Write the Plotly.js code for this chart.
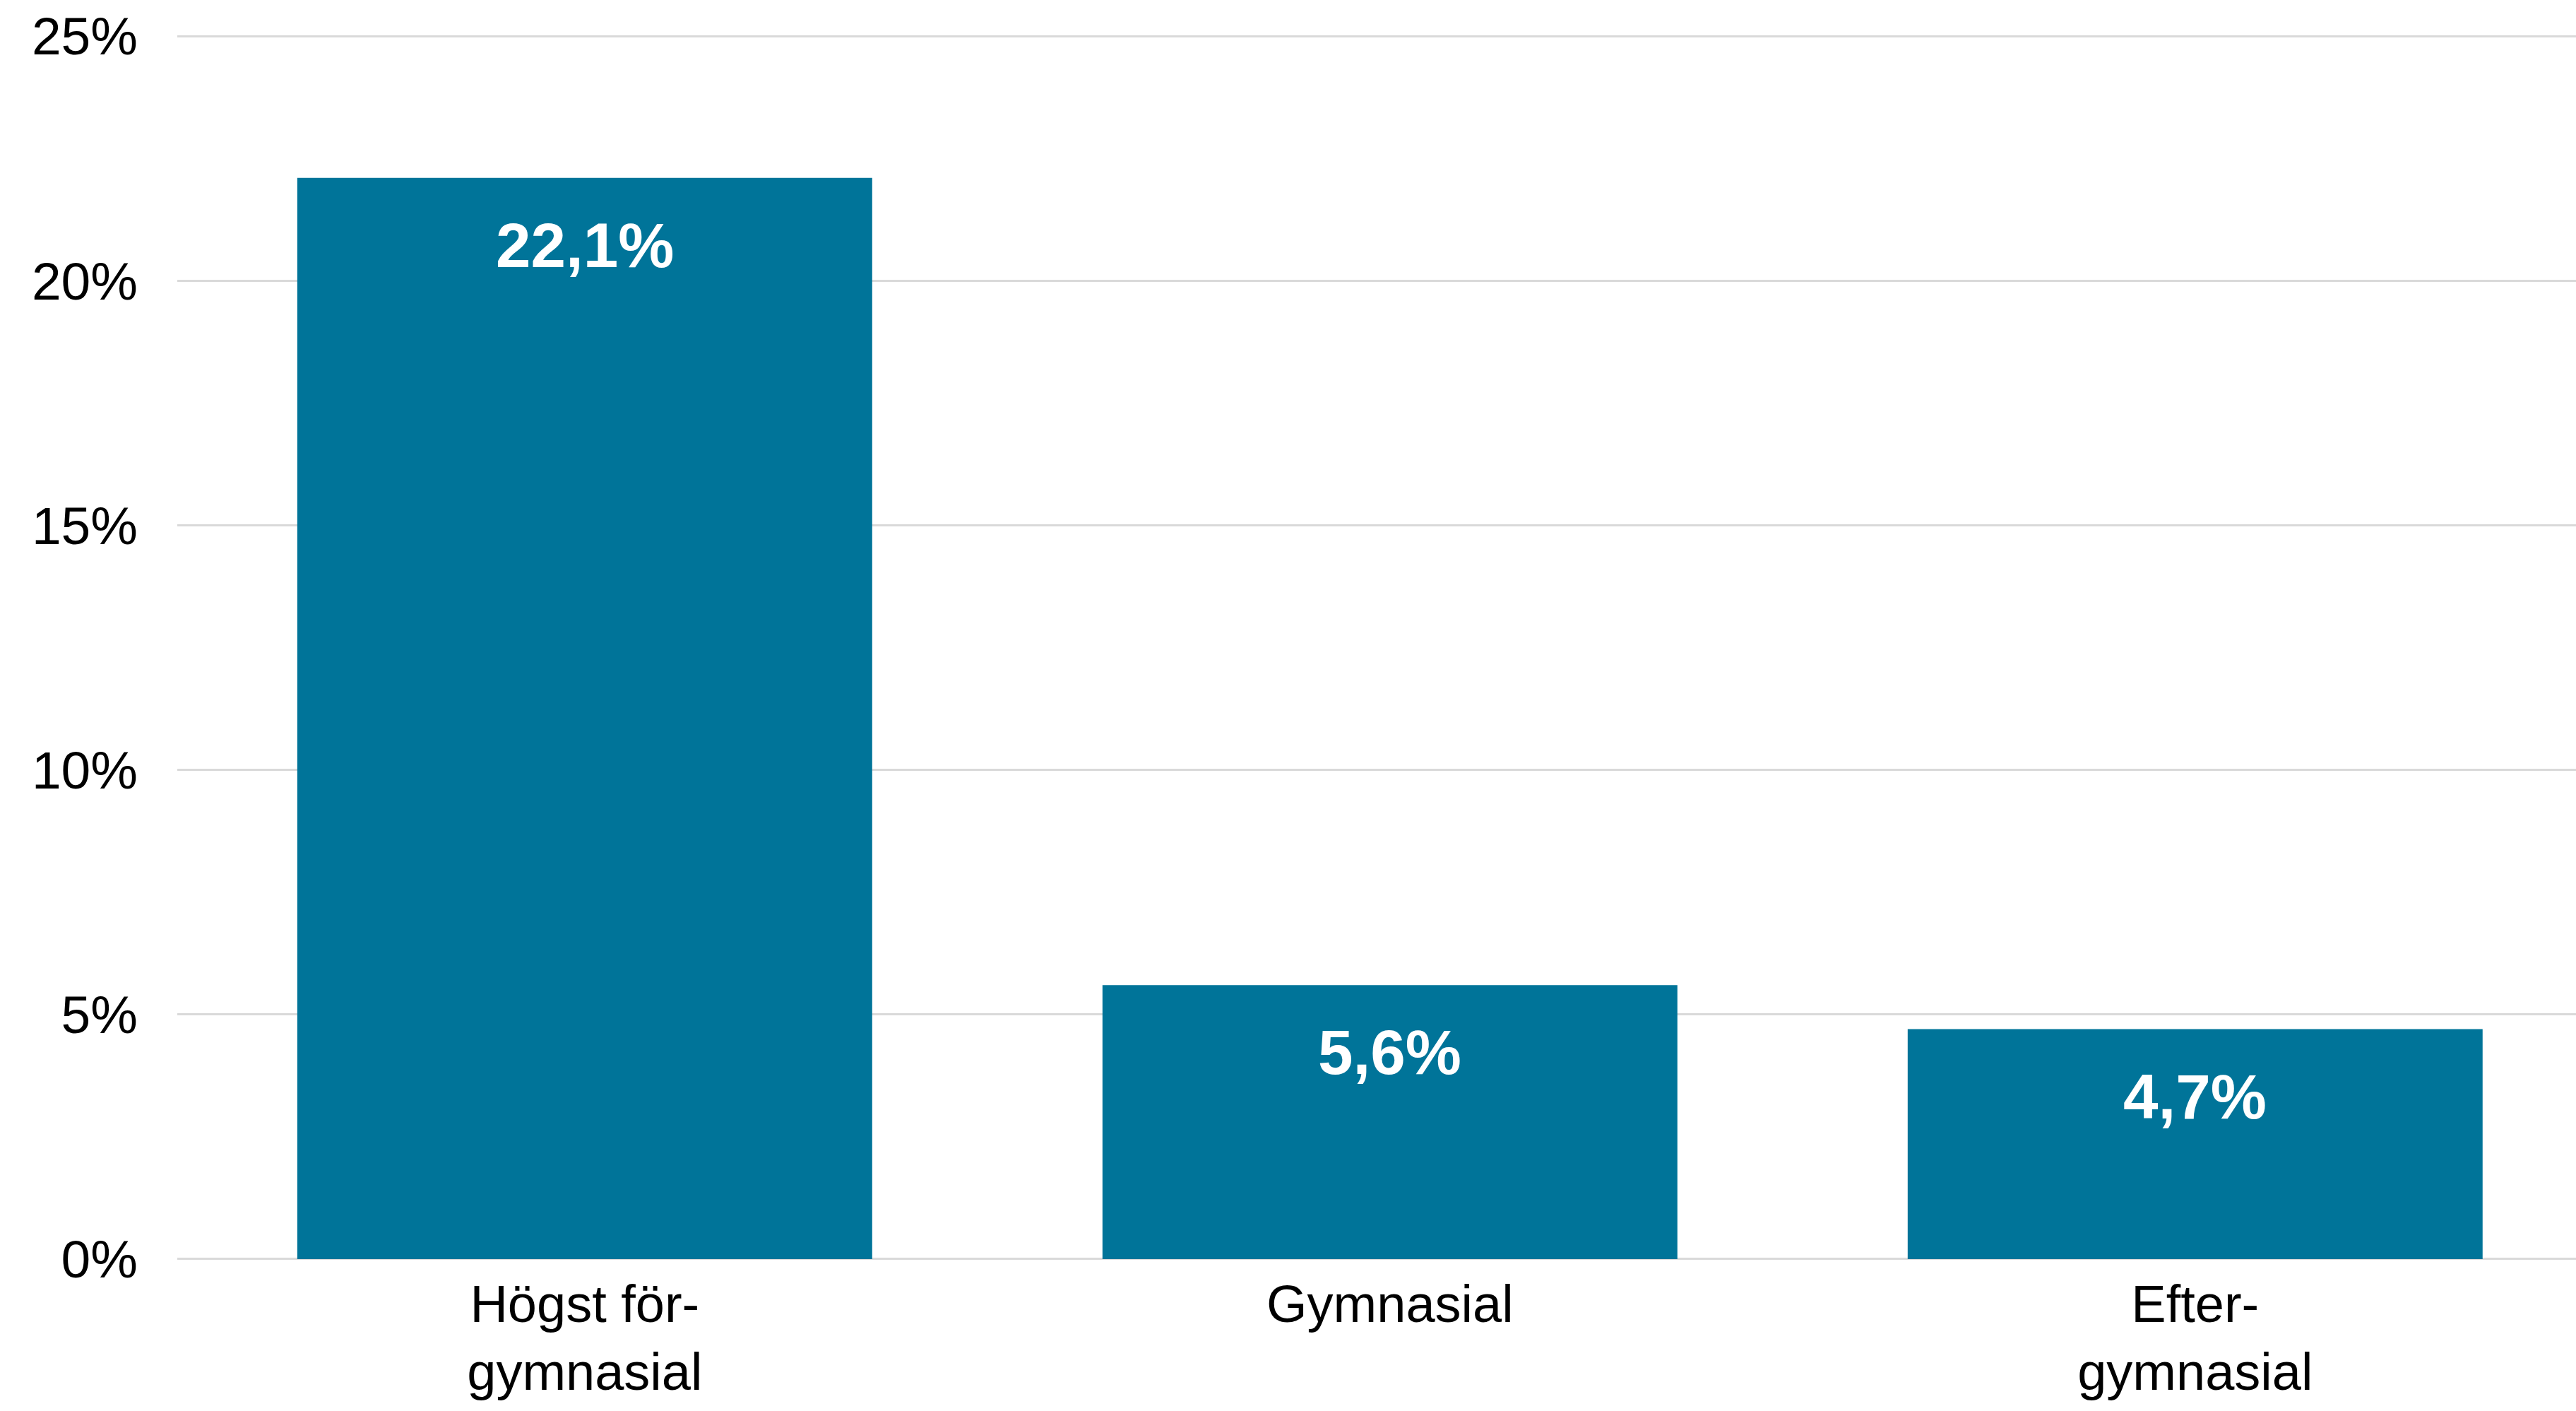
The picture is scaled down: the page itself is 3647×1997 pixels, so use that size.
<!DOCTYPE html>
<html>
<head>
<meta charset="utf-8">
<script src="https://cdn.plot.ly/plotly-3.0.1.min.js"></script>
<style>html,body{margin:0;padding:0;background:#fff;overflow:hidden}</style>
</head>
<body>
<div id="chart" style="width:3647px;height:1997px"></div>
<script>
const categories = ["Högst för-<br>gymnasial", "Gymnasial", "Efter-<br>gymnasial"];
const values = [22.1, 5.6, 4.7];
const yTicks = [0, 5, 10, 15, 20, 25];
const yTickText = yTicks.map(t => t + '%');

const FONT = '"Liberation Sans", Arial, sans-serif';
const BAR = '#007499';

const labels = values.map(v => v.toFixed(1).replace('.', ',') + '%');

const trace = {
  type: 'bar',
  x: categories,
  y: values,
  marker: {color: BAR},
  hoverinfo: 'none'
};

const annotations = values.map((v, i) => ({
  x: categories[i],
  y: v,
  xref: 'x',
  yref: 'y',
  text: '<b>' + labels[i] + '</b>',
  showarrow: false,
  yanchor: 'middle',
  yshift: -95,
  font: {family: FONT, size: 89, color: '#ffffff'}
}));

// plot area: y=25 at 51px, y=0 at 1782px (range padded slightly so edge gridlines are drawn)
const pxPerUnit = (1782 - 51) / 25;
const padU = 0.03;
const layout = {
  width: 3647,
  height: 1997,
  margin: {l: 251, r: 0, t: Math.round(51 - padU * pxPerUnit), b: Math.round(1997 - 1782 - padU * pxPerUnit), pad: 0},
  paper_bgcolor: '#ffffff',
  plot_bgcolor: '#ffffff',
  showlegend: false,
  bargap: 0.286,
  separators: ',.',
  font: {family: FONT, color: '#000000', size: 75},
  xaxis: {
    type: 'category',
    range: [-0.506, 2.473],
    showgrid: false,
    showline: false,
    zeroline: false,
    ticks: '',
    ticklabelstandoff: 12,
    tickfont: {family: FONT, size: 74, color: '#000000'}
  },
  yaxis: {
    range: [-padU, 25 + padU],
    tickmode: 'array',
    tickvals: yTicks,
    ticktext: yTickText,
    showgrid: true,
    gridcolor: '#d9d9d9',
    gridwidth: 3,
    zeroline: false,
    showline: false,
    ticks: '',
    ticklabelstandoff: 55,
    tickfont: {family: FONT, size: 75, color: '#000000'}
  },
  annotations: annotations
};

Plotly.newPlot('chart', [trace], layout, {staticPlot: true, displayModeBar: false});
</script>
</body>
</html>
